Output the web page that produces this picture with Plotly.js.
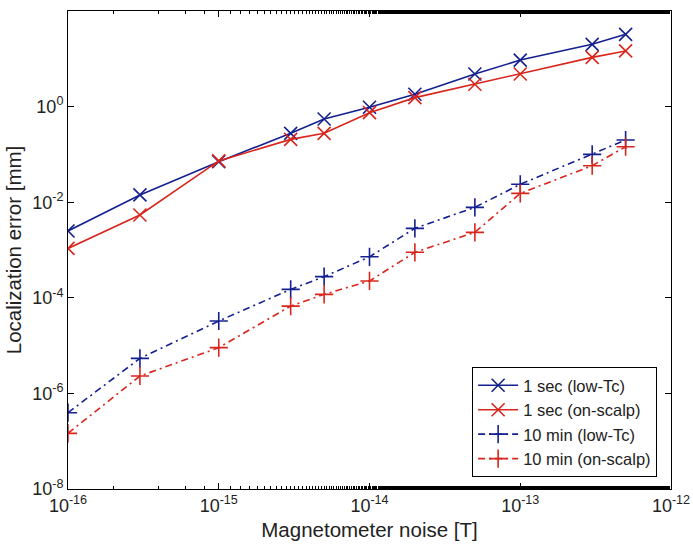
<!DOCTYPE html>
<html>
<head>
<meta charset="utf-8">
<script src="https://cdn.plot.ly/plotly-3.0.1.min.js"></script>
<style>html,body{margin:0;padding:0;background:#fff;}#chart{width:693px;height:547px;}</style>
</head>
<body>
<div id="chart"></div>
<script>
const noise = [1e-16, 3e-16, 1e-15, 3e-15, 5e-15, 1e-14, 2e-14, 5e-14, 1e-13, 3e-13, 5e-13];
const sec1LowTc   = [2.5e-3, 0.0142, 0.0705, 0.276, 0.55, 0.97, 1.81, 4.8, 9.4, 20.1, 32.5];
const sec1OnScalp = [1.08e-3, 5.4e-3, 0.073, 0.206, 0.276, 0.746, 1.54, 2.93, 4.8, 10.7, 14.6];
const min10LowTc  = [3.95e-7, 5.4e-6, 3.27e-5, 1.5e-4, 2.77e-4, 7.2e-4, 2.84e-3, 7.8e-3, 0.0237, 0.1, 0.2];
const min10OnScalp= [1.46e-7, 2.31e-6, 9.06e-6, 6.7e-5, 1.18e-4, 2.25e-4, 8.95e-4, 2.34e-3, 0.0153, 0.058, 0.145];
const seriesNames = ['1 sec (low-Tc)', '1 sec (on-scalp)', '10 min (low-Tc)', '10 min (on-scalp)'];
const xTickVals = [1e-16, 1e-15, 1e-14, 1e-13, 1e-12];
const xTickText = ['10<sup>-16</sup>', '10<sup>-15</sup>', '10<sup>-14</sup>', '10<sup>-13</sup>', '10<sup>-12</sup>'];
const yTickVals = [1e-8, 1e-6, 1e-4, 1e-2, 1, 1e2];
const yTickText = ['10<sup>-8</sup>', '10<sup>-6</sup>', '10<sup>-4</sup>', '10<sup>-2</sup>', '10<sup>0</sup>', '10<sup>2</sup>'];

const BLUE = '#14208f';
const RED = '#d8261c';
const FONT = 'Liberation Sans, Arial, sans-serif';

function tr(y, name, color, sym, dash) {
  return {
    x: noise, y: y, name: name, type: 'scatter', mode: 'lines+markers',
    line: {color: color, width: 1.6, dash: dash},
    marker: {symbol: sym, size: 13, color: color, line: {color: color, width: 1.6}}
  };
}
const data = [
  tr(sec1LowTc, seriesNames[0], BLUE, 'x-thin', 'solid'),
  tr(sec1OnScalp, seriesNames[1], RED, 'x-thin', 'solid'),
  tr(min10LowTc, seriesNames[2], BLUE, 'cross-thin', '7px,4px,2px,4px'),
  tr(min10OnScalp, seriesNames[3], RED, 'cross-thin', '7px,4px,2px,4px')
];

const axisCommon = {
  type: 'log', showgrid: false, zeroline: false,
  showline: true, linecolor: '#000', linewidth: 1, mirror: 'ticks',
  ticks: 'inside', tickcolor: '#000', ticklen: 6, tickwidth: 1,
  tickfont: {family: FONT, size: 18, color: '#222'}
};
const layout = {
  width: 693, height: 547,
  margin: {l: 68, r: 22, t: 11, b: 58},
  paper_bgcolor: '#fff', plot_bgcolor: '#fff',
  showlegend: true,
  xaxis: Object.assign({}, axisCommon, {
    range: [-16, -12], tickmode: 'array', tickvals: xTickVals, ticktext: xTickText,
    minor: {ticks: 'inside', ticklen: 3, tickcolor: '#000', tickwidth: 1, showgrid: false},
    title: {text: 'Magnetometer noise [T]', standoff: 8, font: {family: FONT, size: 20.5, color: '#222'}}
  }),
  yaxis: Object.assign({}, axisCommon, {
    range: [-8, 2], tickmode: 'array', tickvals: yTickVals, ticktext: yTickText,
    title: {text: 'Localization error [mm]', standoff: 4, font: {family: FONT, size: 20.5, color: '#222'}}
  }),
  legend: {
    x: 0.977, xanchor: 'right', y: 0.025, yanchor: 'bottom',
    bgcolor: '#fff', bordercolor: '#000', borderwidth: 1,
    font: {family: FONT, size: 16.5, color: '#222'},
    tracegroupgap: 0, itemwidth: 40
  }
};
Plotly.newPlot('chart', data, layout, {displayModeBar: false, staticPlot: true});
</script>
</body>
</html>
